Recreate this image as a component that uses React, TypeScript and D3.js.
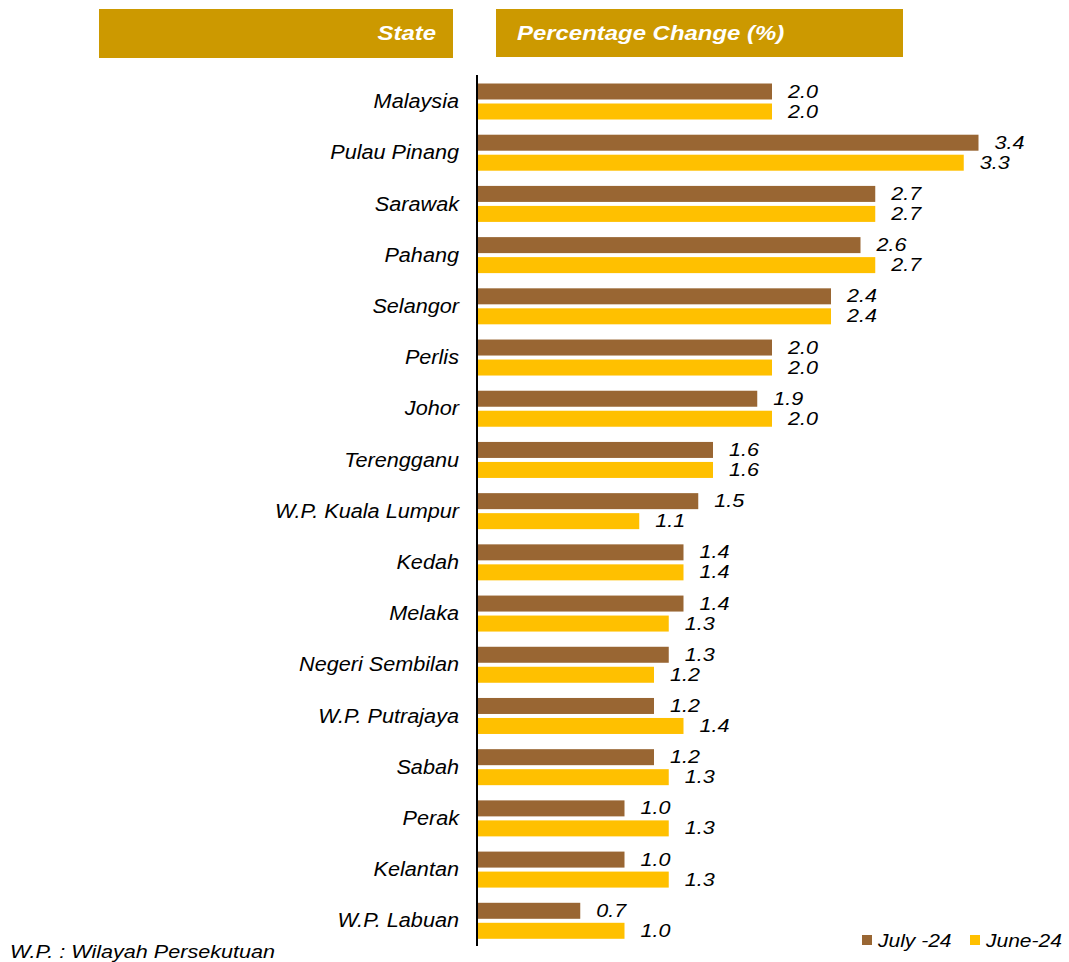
import * as d3 from "d3";

const states = [
  "Malaysia",
  "Pulau Pinang",
  "Sarawak",
  "Pahang",
  "Selangor",
  "Perlis",
  "Johor",
  "Terengganu",
  "W.P. Kuala Lumpur",
  "Kedah",
  "Melaka",
  "Negeri Sembilan",
  "W.P. Putrajaya",
  "Sabah",
  "Perak",
  "Kelantan",
  "W.P. Labuan",
];
const july24 = [2.0, 3.4, 2.7, 2.6, 2.4, 2.0, 1.9, 1.6, 1.5, 1.4, 1.4, 1.3, 1.2, 1.2, 1.0, 1.0, 0.7];
const june24 = [2.0, 3.3, 2.7, 2.7, 2.4, 2.0, 2.0, 1.6, 1.1, 1.4, 1.3, 1.2, 1.4, 1.3, 1.3, 1.3, 1.0];
const seriesNames = ["July -24", "June-24"];
const colors = ["#996633", "#FFC000"];

const width = 1069;
const height = 962;
const font = "Liberation Sans, Arial, sans-serif";

// text that is a little wider than the font draws it (as in the source image)
function T({
  x,
  y,
  size,
  sx,
  anchor = "start",
  fill = "#000",
  bold = false,
  children,
}: {
  x: number;
  y: number;
  size: number;
  sx: number;
  anchor?: string;
  fill?: string;
  bold?: boolean;
  children: React.ReactNode;
}) {
  return (
    <text
      transform={`translate(${x},${y}) scale(${sx},1)`}
      textAnchor={anchor}
      fontSize={size}
      fontStyle="italic"
      fontWeight={bold ? "bold" : "normal"}
      fill={fill}
    >
      {children}
    </text>
  );
}

export default function App() {
  const x = d3.scaleLinear().domain([0, 2]).range([477, 772]);
  const y = d3.scaleBand().domain(states).range([75.5, 946]);
  const inner = d3.scaleBand().domain(seriesNames).range([8, 44]).paddingInner(0.2);
  const series = [july24, june24];

  return (
    <svg
      width={width}
      height={height}
      style={{ position: "absolute", left: 0, top: 0, background: "#fff" }}
      fontFamily={font}
    >
      {/* header boxes */}
      <rect x={99} y={9} width={354} height={49} fill="#CC9900" />
      <rect x={496} y={9} width={407} height={48} fill="#CC9900" />
      <T x={436} y={40} size={21} sx={1.14} anchor="end" fill="#fff" bold>
        State
      </T>
      <T x={517} y={40} size={21} sx={1.14} fill="#fff" bold>
        Percentage Change (%)
      </T>

      {states.map((s, i) => (
        <g key={s}>
          <T x={459} y={(y(s) as number) + y.bandwidth() / 2 + 7} size={19.5} sx={1.11} anchor="end">
            {s}
          </T>
          {series.map((vals, k) => {
            const by = (y(s) as number) + (inner(seriesNames[k]) as number);
            return (
              <g key={k}>
                <rect
                  x={x(0)}
                  y={by}
                  width={x(vals[i]) - x(0)}
                  height={inner.bandwidth()}
                  fill={colors[k]}
                />
                <T x={x(vals[i]) + 16} y={by + inner.bandwidth() / 2 + 6} size={17.5} sx={1.23}>
                  {vals[i].toFixed(1)}
                </T>
              </g>
            );
          })}
        </g>
      ))}

      <line x1={477} x2={477} y1={75} y2={946} stroke="#000" strokeWidth={2} />

      {/* legend */}
      {seriesNames.map((n, k) => {
        const lx = [862, 970][k];
        return (
          <g key={n}>
            <rect x={lx} y={935} width={10} height={10} fill={colors[k]} />
            <T x={lx + 16} y={947} size={17.5} sx={1.2}>
              {n}
            </T>
          </g>
        );
      })}

      <T x={10} y={958} size={18} sx={1.2}>
        W.P. : Wilayah Persekutuan
      </T>
    </svg>
  );
}
